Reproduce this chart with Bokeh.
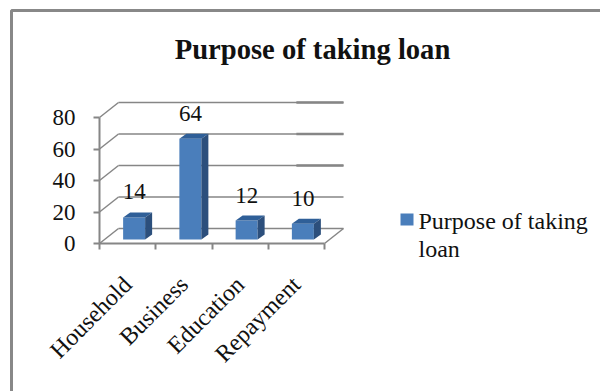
from math import pi

from bokeh.core.properties import value
from bokeh.embed import file_html
from bokeh.models import BoxAnnotation, ColumnDataSource, FixedTicker, Label
from bokeh.plotting import figure
from bokeh.resources import INLINE

TITLE = "Purpose of taking loan"
SERIES = "Purpose of taking loan"
categories = ["Household", "Business", "Education", "Repayment"]
counts = [14, 64, 12, 10]
y_ticks = [0, 20, 40, 60, 80]

FONT = "Liberation Serif"
GRID = "#868686"
FRONT = "#4a7ebb"
TOP = "#2f5f98"
SIDE = "#2c4f7c"
TEXT = "#111111"

WIDTH, HEIGHT = 600, 391

# Pixel scales of the front plane and the canvas position of its origin.
PX_PER_CAT = 56.25
PX_PER_UNIT = 1.575
ORIGIN_X, ORIGIN_Y = 99, 243

# Box depth and bar depth, expressed in data units.
box_dx, box_dy = 19 / PX_PER_CAT, 15 / PX_PER_UNIT
bar_dx, bar_dy = 7 / PX_PER_CAT, 5 / PX_PER_UNIT
floor_gap = 4 / PX_PER_UNIT
half_bar = 11 / PX_PER_CAT
bar_shift = 6.5 / PX_PER_CAT

# The frame fills the canvas, so axes sit at fixed data locations.
p = figure(
    width=WIDTH,
    height=HEIGHT,
    output_backend="svg",
    toolbar_location=None,
    x_range=(-ORIGIN_X / PX_PER_CAT, (WIDTH - ORIGIN_X) / PX_PER_CAT),
    y_range=(-(HEIGHT - ORIGIN_Y) / PX_PER_UNIT, ORIGIN_Y / PX_PER_UNIT),
    min_border=0,
    outline_line_color=None,
    background_fill_color="white",
    border_fill_color="white",
)
p.grid.visible = False

yax = p.yaxis[0]
yax.fixed_location = 0
yax.bounds = (y_ticks[0], y_ticks[-1])
yax.ticker = FixedTicker(ticks=y_ticks)
yax.axis_line_color = GRID
yax.axis_line_width = 2
yax.major_tick_line_color = GRID
yax.major_tick_line_width = 2
yax.major_tick_in = 0
yax.major_tick_out = 6
yax.minor_tick_line_color = None
yax.major_label_text_font = FONT
yax.major_label_text_font_size = "23px"
yax.major_label_text_color = TEXT
yax.major_label_standoff = 18

# Category axis: labels at centres, tick marks at category boundaries.
n = len(categories)
centers = [i + 0.5 for i in range(n)]
xax = p.xaxis[0]
xax.fixed_location = 0
xax.bounds = (0, n)
xax.ticker = FixedTicker(ticks=centers, minor_ticks=list(range(n + 1)))
xax.major_label_overrides = {c: name for c, name in zip(centers, categories)}
xax.major_label_orientation = pi / 4
xax.major_label_text_font = FONT
xax.major_label_text_font_size = "24px"
xax.major_label_text_color = TEXT
xax.major_label_standoff = 31
xax.axis_line_color = GRID
xax.axis_line_width = 2
xax.major_tick_line_color = None
xax.minor_tick_line_color = GRID
xax.minor_tick_line_width = 2
xax.minor_tick_in = 0
xax.minor_tick_out = 6

# Back wall and left wall gridlines.
for v in y_ticks:
    p.line([box_dx, n + box_dx], [v + box_dy] * 2, line_color=GRID, line_width=1.5)
    p.line([0, box_dx], [v, v + box_dy], line_color=GRID, line_width=1.5)
# Heavier segments at the right end of the back wall.
for v in y_ticks[2:]:
    p.line([n - 0.5, n + box_dx], [v + box_dy] * 2, line_color=GRID, line_width=2.4)
# Right edge of the floor.
p.line([n, n + box_dx], [0, box_dy], line_color=GRID, line_width=1.5)

# Bars: front faces, then the top and side faces of the extrusion.
bar_x = [c + bar_shift for c in centers]
src = ColumnDataSource(
    dict(
        x=bar_x,
        bottom=[floor_gap] * n,
        top=[c + floor_gap for c in counts],
    )
)
p.vbar(x="x", width=2 * half_bar, bottom="bottom", top="top", source=src, fill_color=FRONT, line_color=None)

top_xs, top_ys, side_xs, side_ys = [], [], [], []
for x, c in zip(bar_x, counts):
    l, r, t = x - half_bar, x + half_bar, c + floor_gap
    top_xs.append([l, r, r + bar_dx, l + bar_dx])
    top_ys.append([t, t, t + bar_dy, t + bar_dy])
    side_xs.append([r, r + bar_dx, r + bar_dx, r])
    side_ys.append([floor_gap, floor_gap + bar_dy, t + bar_dy, t])
p.patches(top_xs, top_ys, fill_color=TOP, line_color=None)
p.patches(side_xs, side_ys, fill_color=SIDE, line_color=None)

# Value labels above each bar.
p.text(
    x=bar_x,
    y=[c + floor_gap + bar_dy + 13 for c in counts],
    text=[str(c) for c in counts],
    text_font=value(FONT),
    text_font_size="23px",
    text_color=TEXT,
    text_align="center",
    text_baseline="middle",
)


def canvas_label(text, cx, cy, align, size, style="normal"):
    """Text placed by canvas pixel position, measured from the top left."""
    p.add_layout(
        Label(
            x=cx, y=HEIGHT - cy, x_units="screen", y_units="screen",
            text=text, text_font=FONT, text_font_size=size, text_font_style=style,
            text_color=TEXT, text_align=align, text_baseline="middle",
        )
    )


canvas_label(TITLE, 312, 49, "center", "28.6px", "bold")

# Legend swatch and wrapped legend text.
p.add_layout(
    BoxAnnotation(
        left=400, right=413, top=HEIGHT - 213, bottom=HEIGHT - 225,
        left_units="screen", right_units="screen", top_units="screen", bottom_units="screen",
        fill_color=FRONT, fill_alpha=1, line_color=None,
    )
)
words = SERIES.split(" ")
canvas_label(" ".join(words[:3]), 418, 220, "left", "24px")
canvas_label(words[3], 418, 248, "left", "24px")

# Outer chart border, running off the right and bottom edges.
p.add_layout(
    BoxAnnotation(
        left=11, right=640, top=HEIGHT - 10, bottom=-40,
        left_units="screen", right_units="screen", top_units="screen", bottom_units="screen",
        fill_alpha=0, line_color="#888888", line_alpha=1, line_width=3,
    )
)

open("out.html", "w").write(file_html(p, INLINE))
